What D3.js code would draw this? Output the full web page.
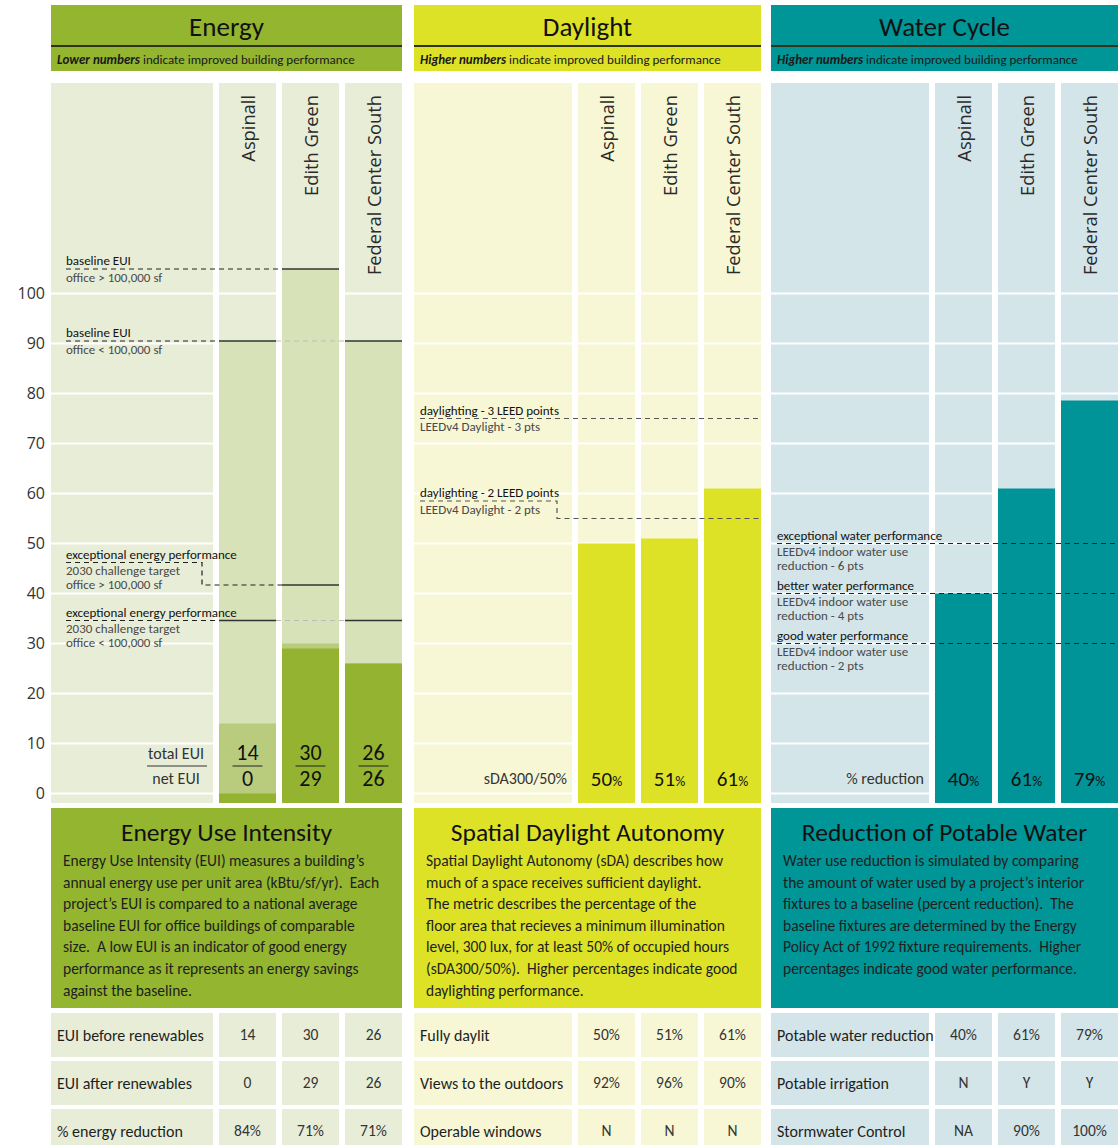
<!DOCTYPE html>
<html><head><meta charset="utf-8">
<script src="https://cdn.jsdelivr.net/npm/d3@7"></script>
<style>
html,body{margin:0;padding:0;background:#fff;}
svg{display:block;}
text{white-space:pre;}
</style></head>
<body>
<svg id="chart" width="1118" height="1145"></svg>
<script>
// ---------------- DATA ----------------
const buildings = ["Aspinall", "Edith Green", "Federal Center South"];
const yTicks = [0, 10, 20, 30, 40, 50, 60, 70, 80, 90, 100];

// Energy (kBtu/sf/yr)
const baselineEUI = [90.5, 104.9, 90.5];
const totalEUI = [14, 30, 26];
const netEUI = [0, 29, 26];
const energyTargets = [
  { value: 104.9, label: "baseline EUI", sub: ["office > 100,000 sf"], applies: ["Edith Green"] },
  { value: 90.5, label: "baseline EUI", sub: ["office < 100,000 sf"], applies: ["Aspinall", "Federal Center South"] },
  { value: 41.7, labelValue: 46.2, label: "exceptional energy performance", sub: ["2030 challenge target", "office > 100,000 sf"], applies: ["Edith Green"] },
  { value: 34.6, label: "exceptional energy performance", sub: ["2030 challenge target", "office < 100,000 sf"], applies: ["Aspinall", "Federal Center South"] }
];

// Daylight (sDA300/50 %)
const sDA = [50, 51, 61];
const daylightTargets = [
  { value: 75, label: "daylighting - 3 LEED points", sub: ["LEEDv4 Daylight - 3 pts"] },
  { value: 55, labelValue: 58.5, label: "daylighting - 2 LEED points", sub: ["LEEDv4 Daylight - 2 pts"] }
];

// Water (% reduction)
const waterReduction = [40, 61, 78.6];
const waterLabels = ["40", "61", "79"];
const waterTargets = [
  { value: 50, label: "exceptional water performance", sub: ["LEEDv4 indoor water use", "reduction - 6 pts"] },
  { value: 40, label: "better water performance", sub: ["LEEDv4 indoor water use", "reduction - 4 pts"] },
  { value: 30, label: "good water performance", sub: ["LEEDv4 indoor water use", "reduction - 2 pts"] }
];

// Texts
const panelTitles = ["Energy", "Daylight", "Water Cycle"];
const panelSubtitles = [["Lower numbers", " indicate improved building performance"],
                        ["Higher numbers", " indicate improved building performance"],
                        ["Higher numbers", " indicate improved building performance"]];
const descTitles = ["Energy Use Intensity", "Spatial Daylight Autonomy", "Reduction of Potable Water"];
const descEnergy = ["Energy Use Intensity (EUI) measures a building\u2019s",
  "annual energy use per unit area (kBtu/sf/yr).  Each",
  "project\u2019s EUI is compared to a national average",
  "baseline EUI for office buildings of comparable",
  "size.  A low EUI is an indicator of good energy",
  "performance as it represents an energy savings",
  "against the baseline."];
const descDaylight = ["Spatial Daylight Autonomy (sDA) describes how",
  "much of a space receives sufficient daylight.",
  "The metric describes the percentage of the",
  "floor area that recieves a minimum illumination",
  "level, 300 lux, for at least 50% of occupied hours",
  "(sDA300/50%).  Higher percentages indicate good",
  "daylighting performance."];
const descWater = ["Water use reduction is simulated by comparing",
  "the amount of water used by a project\u2019s interior",
  "fixtures to a baseline (percent reduction).  The",
  "baseline fixtures are determined by the Energy",
  "Policy Act of 1992 fixture requirements.  Higher",
  "percentages indicate good water performance."];

// Tables
const energyRowLabels = ["EUI before renewables", "EUI after renewables", "% energy reduction"];
const energyTable = [["14", "30", "26"], ["0", "29", "26"], ["84%", "71%", "71%"]];
const daylightRowLabels = ["Fully daylit", "Views to the outdoors", "Operable windows"];
const daylightTable = [["50%", "51%", "61%"], ["92%", "96%", "90%"], ["N", "N", "N"]];
const waterRowLabels = ["Potable water reduction", "Potable irrigation", "Stormwater Control"];
const waterTable = [["40%", "61%", "79%"], ["N", "Y", "Y"], ["NA", "90%", "100%"]];

// ---------------- LAYOUT / STYLE ----------------
const FONT = "Carlito, Lato, 'Open Sans', sans-serif";
const LABEL_FONT = "'Open Sans', 'Noto Sans', sans-serif";
const svg = d3.select("#chart");

const panels = [
  { x0: 51, x1: 402, head: "#93b52f", bg: "#e8edd8", table: "#e8edd8", lx: 15 },
  { x0: 414, x1: 761, head: "#dde227", bg: "#f7f7d5", table: "#f7f7d5", lx: 6 },
  { x0: 771, x1: 1118, head: "#009597", bg: "#d3e5e8", table: "#d3e5e8", lx: 6 }
];
const CH_TOP = 83, CH_BOT = 803;
const y = d3.scaleLinear().domain([0, 100]).range([793.5, 293.5]);
const bottomVal = y.invert(CH_BOT);

panels.forEach(p => {
  p.x = d3.scaleBand().domain(buildings)
    .range([p.x1 - 189, p.x1]).paddingInner(6 / 63).paddingOuter(3 / 63).align(1);
  p.labelX1 = p.x1 - 189;
});

// Headers
panels.forEach((p, i) => {
  const g = svg.append("g");
  g.append("rect").attr("x", p.x0).attr("y", 5).attr("width", p.x1 - p.x0).attr("height", 66).attr("fill", p.head);
  g.append("rect").attr("x", p.x0).attr("y", 45).attr("width", p.x1 - p.x0).attr("height", 2).attr("fill", "#2e3319");
  g.append("text").attr("x", (p.x0 + p.x1) / 2).attr("y", 35.5).attr("text-anchor", "middle")
    .attr("font-family", FONT).attr("font-size", 27).attr("fill", "#111").text(panelTitles[i]);
  const t = g.append("text").attr("x", p.x0 + 6).attr("y", 63.5).attr("font-family", FONT)
    .attr("font-size", 13).attr("fill", "#1a1a1a");
  t.append("tspan").attr("font-style", "italic").attr("font-weight", 600).text(panelSubtitles[i][0]);
  t.append("tspan").text(panelSubtitles[i][1]);
});

// Chart backgrounds + gridlines
panels.forEach(p => {
  const cols = [[p.x0, p.labelX1]].concat(buildings.map(b => [p.x(b), p.x(b) + p.x.bandwidth()]));
  cols.forEach(c => {
    svg.append("rect").attr("x", c[0]).attr("y", CH_TOP).attr("width", c[1] - c[0]).attr("height", CH_BOT - CH_TOP).attr("fill", p.bg);
    svg.selectAll(null).data(yTicks).enter().append("line")
      .attr("x1", c[0]).attr("x2", c[1]).attr("y1", d => y(d)).attr("y2", d => y(d))
      .attr("stroke", "#fff").attr("stroke-width", 2);
  });
});

// Y axis labels
svg.append("g").selectAll("text").data(yTicks).enter().append("text")
  .attr("x", 45).attr("y", d => y(d)).attr("dy", "0.35em").attr("text-anchor", "end")
  .attr("font-family", LABEL_FONT).attr("font-size", 16).attr("fill", "#333").text(d => d);

// ---- Energy bars ----
const pe = panels[0];
const bw = pe.x.bandwidth();
function barRect(p, b, v, color) {
  svg.append("rect").attr("x", p.x(b)).attr("y", y(v)).attr("width", p.x.bandwidth())
    .attr("height", y(bottomVal) - y(v)).attr("fill", color);
}
buildings.forEach((b, i) => barRect(pe, b, baselineEUI[i], "#d7e2b8"));
buildings.forEach((b, i) => barRect(pe, b, totalEUI[i], "#b9cc7d"));
buildings.forEach((b, i) => barRect(pe, b, netEUI[i], "#94b431"));

// Targets
function drawTargets(p, targets, opts) {
  const lx = p.x0 + p.lx;
  targets.forEach(t => {
    const ly = y(t.labelValue != null ? t.labelValue : t.value);
    const ty = y(t.value);
    svg.append("text").attr("x", lx).attr("y", ly - 4).attr("font-family", FONT)
      .attr("font-size", opts.fs).attr("fill", "#111").text(t.label);
    t.sub.forEach((s, k) => svg.append("text").attr("x", lx).attr("y", ly + opts.sub0 + k * opts.subStep)
      .attr("font-family", FONT).attr("font-size", opts.fs).attr("fill", "#4a4a4a").text(s));
    if (t.applies) {
      const first = p.x(t.applies[0]);
      const lastB = t.applies[t.applies.length - 1];
      let pts;
      if (t.labelValue != null) {
        const ex = p.x0 + 151;
        pts = [[lx, ly], [ex, ly], [ex, ty], [first, ty]];
      } else pts = [[lx, ty], [first, ty]];
      svg.append("path").attr("d", d3.line()(pts)).attr("fill", "none").attr("stroke", "#222")
        .attr("stroke-width", 1.2).attr("stroke-dasharray", "5,4");
      const li = buildings.indexOf(lastB);
      buildings.forEach((b, i) => {
        if (i > li) return;
        const x0 = p.x(b), x1 = x0 + p.x.bandwidth();
        if (t.applies.includes(b)) {
          svg.append("line").attr("x1", x0).attr("x2", x1).attr("y1", ty).attr("y2", ty).attr("stroke", "#333").attr("stroke-width", 1.3);
        } else if (x0 > first) {
          svg.append("line").attr("x1", x0 - 6).attr("x2", x1 + 6).attr("y1", ty).attr("y2", ty).attr("stroke", "#bbb")
            .attr("stroke-width", 1.2).attr("stroke-dasharray", "5,4");
        }
      });
    } else {
      let pts;
      if (t.labelValue != null) {
        const ex = p.x0 + 143;
        pts = [[lx, ly], [ex, ly], [ex, ty], [p.x1, ty]];
      } else pts = [[lx, ty], [p.x1, ty]];
      svg.append("path").attr("d", d3.line()(pts)).attr("fill", "none").attr("stroke", opts.dash)
        .attr("stroke-width", 1.2).attr("stroke-dasharray", "5,4");
    }
  });
}
drawTargets(pe, energyTargets, { fs: 13, sub0: 12.5, subStep: 14, dash: "#222" });

// Energy bottom labels
const eb = svg.append("g").attr("font-family", FONT);
eb.append("text").attr("x", 176).attr("y", 759).attr("text-anchor", "middle").attr("font-size", 16).attr("fill", "#333").text("total EUI");
eb.append("line").attr("x1", 147).attr("x2", 207).attr("y1", 766).attr("y2", 766).attr("stroke", "#333").attr("stroke-width", 1);
eb.append("text").attr("x", 176).attr("y", 784).attr("text-anchor", "middle").attr("font-size", 16).attr("fill", "#333").text("net EUI");
buildings.forEach((b, i) => {
  const cx = pe.x(b) + bw / 2;
  eb.append("text").attr("x", cx).attr("y", 760).attr("text-anchor", "middle").attr("font-size", 22).attr("fill", "#111").text(totalEUI[i]);
  eb.append("line").attr("x1", cx - 15).attr("x2", cx + 15).attr("y1", 766).attr("y2", 766).attr("stroke", "#222").attr("stroke-width", 1);
  eb.append("text").attr("x", cx).attr("y", 786).attr("text-anchor", "middle").attr("font-size", 22).attr("fill", "#111").text(netEUI[i]);
});

// ---- Daylight bars ----
const pd = panels[1];
buildings.forEach((b, i) => barRect(pd, b, sDA[i], "#dde227"));
drawTargets(pd, daylightTargets, { fs: 13, sub0: 12.5, subStep: 14, dash: "#555" });
svg.append("text").attr("x", pd.labelX1 - 5).attr("y", 784).attr("text-anchor", "end").attr("font-family", FONT)
  .attr("font-size", 16).attr("fill", "#333").text("sDA300/50%");
function pctLabels(p, vals) {
  buildings.forEach((b, i) => {
    const t = svg.append("text").attr("x", p.x(b) + p.x.bandwidth() / 2).attr("y", 786).attr("text-anchor", "middle")
      .attr("font-family", FONT).attr("fill", "#111");
    t.append("tspan").attr("font-size", 21).text(vals[i]);
    t.append("tspan").attr("font-size", 14).text("%");
  });
}
pctLabels(pd, sDA.map(String));

// ---- Water bars ----
const pw = panels[2];
buildings.forEach((b, i) => barRect(pw, b, waterReduction[i], "#009398"));
drawTargets(pw, waterTargets, { fs: 13, sub0: 12.5, subStep: 13.5, dash: "#222" });
svg.append("text").attr("x", pw.labelX1 - 5).attr("y", 784).attr("text-anchor", "end").attr("font-family", FONT)
  .attr("font-size", 16).attr("fill", "#333").text("% reduction");
pctLabels(pw, waterLabels);

// Column labels (rotated)
panels.forEach(p => {
  buildings.forEach(b => {
    const cx = p.x(b) + p.x.bandwidth() / 2;
    svg.append("text").attr("transform", `translate(${cx + 1},95) rotate(-90)`)
      .attr("text-anchor", "end").attr("dy", "0.35em").attr("font-family", LABEL_FONT)
      .attr("font-size", 18.3).attr("fill", "#2a2a2a").text(b);
  });
});

// ---- Description boxes ----
const descs = [descEnergy, descDaylight, descWater];
panels.forEach((p, i) => {
  svg.append("rect").attr("x", p.x0).attr("y", 808).attr("width", p.x1 - p.x0).attr("height", 200).attr("fill", p.head);
  svg.append("text").attr("x", (p.x0 + p.x1) / 2).attr("y", 841).attr("text-anchor", "middle")
    .attr("font-family", FONT).attr("font-size", 25.5).attr("fill", "#111").text(descTitles[i]);
  svg.append("g").selectAll("text").data(descs[i]).enter().append("text")
    .attr("x", p.x0 + 12).attr("y", (d, k) => 866 + k * 21.6)
    .attr("font-family", FONT).attr("font-size", 15.5).attr("fill", "#1e1e1e").text(d => d);
});

// ---- Tables ----
const tLabels = [energyRowLabels, daylightRowLabels, waterRowLabels];
const tVals = [energyTable, daylightTable, waterTable];
const rowY = d3.scaleBand().domain([0, 1, 2]).range([1013, 1153]).paddingInner(4 / 48);
panels.forEach((p, i) => {
  [0, 1, 2].forEach(r => {
    const ry = rowY(r), rh = rowY.bandwidth();
    svg.append("rect").attr("x", p.x0).attr("y", ry).attr("width", p.labelX1 - p.x0).attr("height", rh).attr("fill", p.table);
    svg.append("text").attr("x", p.x0 + 6).attr("y", ry + 22).attr("dy", "0.35em").attr("font-family", FONT)
      .attr("font-size", 16).attr("fill", "#1e1e1e").text(tLabels[i][r]);
    buildings.forEach((b, k) => {
      svg.append("rect").attr("x", p.x(b)).attr("y", ry).attr("width", p.x.bandwidth()).attr("height", rh).attr("fill", p.table);
      svg.append("text").attr("x", p.x(b) + p.x.bandwidth() / 2).attr("y", ry + 22).attr("dy", "0.35em")
        .attr("text-anchor", "middle").attr("font-family", FONT).attr("font-size", 15.5).attr("fill", "#333").text(tVals[i][r][k]);
    });
  });
});
</script>
</body></html>
